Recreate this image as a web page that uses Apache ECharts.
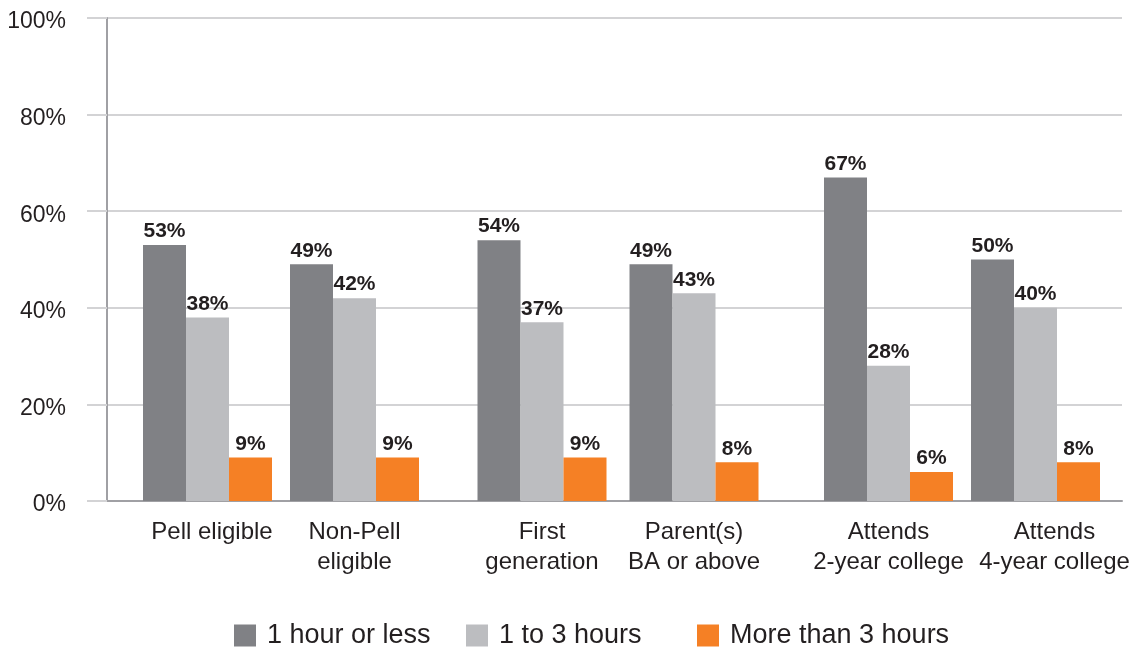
<!DOCTYPE html>
<html>
<head>
<meta charset="utf-8">
<script src="https://cdn.jsdelivr.net/npm/echarts@6/dist/echarts.min.js"></script>
<style>
  html, body { margin: 0; padding: 0; background: #fff; }
  #chart { width: 1136px; height: 650px; }
</style>
</head>
<body>
<div id="chart"></div>
<script>
// data
var categories = ['Pell eligible', 'Non-Pell\neligible', 'First\ngeneration', 'Parent(s)\nBA or above', 'Attends\n2-year college', 'Attends\n4-year college'];
var seriesNames = ['1 hour or less', '1 to 3 hours', 'More than 3 hours'];
var oneHourOrLess = [53, 49, 54, 49, 67, 50];
var oneToThreeHours = [38, 42, 37, 43, 28, 40];
var moreThanThreeHours = [9, 9, 9, 8, 6, 8];
var yTicks = [0, 20, 40, 60, 80, 100];

var colors = ['#808185', '#bcbdc0', '#f58025'];
var font = 'Liberation Sans, Arial, Helvetica, sans-serif';
var textColor = '#231f20';

// 3 pairs of categories, each pair in its own grid so the gaps between pairs come out right
var pairGrids = [
    { left: 134, width: 294 },
    { left: 466, width: 304 },
    { left: 815, width: 294 }
];
// small nudges of some category labels (left padding, px)
var labelShift = [9, 0, 0, 0, 0, 38];
var legendLefts = [229, 461, 692];

var chart = echarts.init(document.getElementById('chart'));

var grids = [{ left: 107, right: 14, top: 18, bottom: 149 }];
var xAxes = [{
    gridIndex: 0, type: 'value', min: 0, max: 1,
    axisLine: { show: true, lineStyle: { color: '#a0a0a4', width: 2 } },
    axisTick: { show: false }, axisLabel: { show: false }, splitLine: { show: false }
}];
var yAxes = [{
    gridIndex: 0, type: 'value', min: yTicks[0], max: yTicks[yTicks.length - 1], interval: 20,
    axisLine: { show: true, lineStyle: { color: '#a0a0a4', width: 2 } },
    axisTick: { show: true, length: 20, lineStyle: { color: '#d3d3d5', width: 2 } },
    splitLine: { show: true, lineStyle: { color: '#d3d3d5', width: 2 } },
    // labels sit a few px below their gridline, like the original
    axisLabel: { formatter: '{value}%', margin: 41, fontSize: 23, verticalAlign: 'top', lineHeight: 8, color: textColor, fontFamily: font }
}];
var series = [];
var allValues = [oneHourOrLess, oneToThreeHours, moreThanThreeHours];

pairGrids.forEach(function (g, i) {
    var gi = i + 1;
    grids.push({ left: g.left, width: g.width, top: 18, bottom: 149 });
    var cats = [];
    for (var k = i * 2; k < i * 2 + 2; k++) {
        cats.push({ value: categories[k], textStyle: { padding: [0, 0, 0, labelShift[k]] } });
    }
    xAxes.push({
        gridIndex: gi, type: 'category', data: cats,
        axisLine: { show: false }, axisTick: { show: false },
        axisLabel: { fontSize: 24, lineHeight: 30, margin: 16, color: textColor, fontFamily: font, interval: 0 }
    });
    yAxes.push({ gridIndex: gi, type: 'value', min: 0, max: 100, show: false });
    allValues.forEach(function (vals, s) {
        series.push({
            name: seriesNames[s],
            type: 'bar',
            xAxisIndex: gi,
            yAxisIndex: gi,
            barWidth: 43,
            barGap: 0,
            data: vals.slice(i * 2, i * 2 + 2),
            itemStyle: { color: colors[s] },
            label: {
                show: true, position: 'top', distance: 3,
                formatter: '{c}%', fontSize: 21, fontWeight: 'bold',
                color: textColor, fontFamily: font
            }
        });
    });
});

// one legend per item so each sits where the reference puts it
var legends = seriesNames.map(function (name, s) {
    return {
        data: [name],
        left: legendLefts[s],
        top: 617,
        itemWidth: 22,
        itemHeight: 22,
        icon: 'rect',
        textStyle: { fontSize: 27, color: textColor, fontFamily: font, padding: [0, 0, 0, 6] }
    };
});

var option = {
    animation: false,
    color: colors,
    grid: grids,
    xAxis: xAxes,
    yAxis: yAxes,
    legend: legends,
    series: series
};
chart.setOption(option);
</script>
</body>
</html>
